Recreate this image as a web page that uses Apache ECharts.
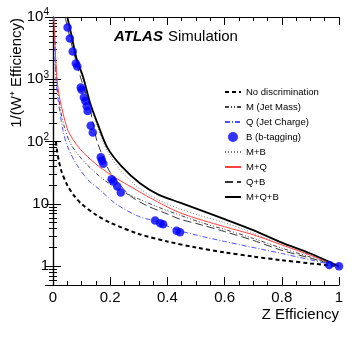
<!DOCTYPE html>
<html>
<head>
<meta charset="utf-8">
<script src="https://cdn.jsdelivr.net/npm/echarts@6/dist/echarts.min.js"></script>
<style>
  html, body { margin: 0; padding: 0; background: #fff; }
  #chart-container { width: 357px; height: 340px; }
</style>
</head>
<body>
<div id="chart-container"></div>
<script>
// 1/(W+ eff) vs Z eff, ATLAS simulation

var FONT = '"Liberation Sans", Arial, Helvetica, sans-serif';

// legend names
var NAMES = ['No discrimination', 'M (Jet Mass)', 'Q (Jet Charge)', 'B (b-tagging)',
             'M+B', 'M+Q', 'Q+B', 'M+Q+B'];

// [Z efficiency, 1/(W+ efficiency)]
var noDisc = [[0.01, 100], [0.015, 67], [0.02, 50], [0.03, 33], [0.05, 20], [0.075, 13.3],
    [0.1, 10], [0.15, 6.7], [0.2, 5], [0.3, 3.3], [0.4, 2.5], [0.5, 2], [0.6, 1.67],
    [0.7, 1.43], [0.8, 1.25], [0.9, 1.11], [1, 1]];
var jetMass = [[0.004, 10000], [0.008, 3000], [0.013, 1000], [0.025, 350], [0.04, 170],
    [0.06, 95], [0.09, 60], [0.13, 38], [0.18, 24], [0.24, 16], [0.3, 12], [0.37, 8.8],
    [0.444, 6.6], [0.52, 5.0], [0.6, 3.9], [0.7, 2.8], [0.8, 1.95], [0.9, 1.4], [1, 1]];
var jetCharge = [[0.003, 10000], [0.006, 3000], [0.01, 1000], [0.02, 400], [0.035, 150],
    [0.05, 85], [0.08, 45], [0.12, 25], [0.164, 16.8], [0.22, 10], [0.3, 6.3], [0.357, 5.3],
    [0.444, 3.7], [0.6, 2.5], [0.8, 1.6], [1, 1]];
var bTag = [[0.051, 6800], [0.059, 4500], [0.069, 2800], [0.080, 1800], [0.085, 1600],
    [0.097, 740], [0.100, 680], [0.108, 510], [0.113, 450], [0.118, 370], [0.121, 310],
    [0.132, 180], [0.139, 140], [0.167, 56], [0.171, 50], [0.176, 44], [0.205, 25],
    [0.211, 23], [0.225, 19], [0.237, 15.3], [0.357, 5.4], [0.375, 4.9], [0.385, 4.7],
    [0.432, 3.7], [0.444, 3.5], [0.966, 1.05], [1.0, 1.0]];
var massB = [[0.047, 10000], [0.065, 4500], [0.083, 2000], [0.105, 1000], [0.13, 400],
    [0.155, 180], [0.19, 70], [0.24, 33], [0.3, 18], [0.37, 11.5], [0.444, 8.3],
    [0.52, 6.4], [0.6, 5.0], [0.7, 3.4], [0.8, 2.2], [0.9, 1.5], [1, 1]];
var massQ = [[0.003, 10000], [0.008, 3000], [0.014, 1000], [0.024, 480], [0.05, 160],
    [0.07, 108], [0.094, 76], [0.12, 58], [0.16, 40], [0.22, 26], [0.28, 18], [0.34, 12.5],
    [0.444, 7.2], [0.6, 4.3], [0.7, 3.2], [0.8, 2.2], [0.9, 1.5], [1, 1]];
var chargeB = [[0.042, 10000], [0.06, 4500], [0.08, 2000], [0.1, 950], [0.125, 420],
    [0.153, 105], [0.18, 50], [0.2, 32], [0.235, 20], [0.27, 13.5], [0.33, 9.3], [0.39, 7.2],
    [0.444, 5.7], [0.52, 4.6], [0.6, 3.6], [0.7, 2.6], [0.8, 1.8], [0.9, 1.35], [1, 1]];
var allThree = [[0.05, 10000], [0.065, 5000], [0.083, 2100], [0.105, 1100], [0.129, 430],
    [0.155, 200], [0.19, 80], [0.24, 40], [0.304, 21.5], [0.37, 14], [0.444, 10.5],
    [0.52, 7.8], [0.6, 5.7], [0.7, 3.8], [0.8, 2.4], [0.9, 1.6], [1, 1]];

var myChart = echarts.init(document.getElementById('chart-container'));

function lineSeries(name, data, color, width, dash) {
    return {
        name: name,
        type: 'line',
        data: data,
        smooth: 0.3,
        symbol: 'none',
        clip: true,
        lineStyle: { color: color, width: width, type: dash },
        itemStyle: { color: color }
    };
}

function yLabel(v) {
    var e = Math.round(Math.log10(v));
    if (Math.abs(Math.log10(v) - e) > 1e-6) return '';
    if (e === 0) return '{b|1}';
    if (e === 1) return '{b|10}';
    return '{b|10}{s|' + e + '}';
}

// legend entries: only the b-tagging one keeps its marker
var legendData = NAMES.map(function(n) {
    if (n === 'B (b-tagging)') return { name: n };
    return { name: n, itemStyle: { opacity: 0 } };
});

var tickCommon = {
    axisLine: { show: true, lineStyle: { color: '#000', width: 1.2 } },
    axisTick: { show: true, inside: true, length: 8, lineStyle: { color: '#000' } },
    splitLine: { show: false },
    minorSplitLine: { show: false }
};
var xMinor = { minorTick: { show: true, splitNumber: 4, length: 4, lineStyle: { color: '#000' } } };
var yMinor = { minorTick: { show: true, splitNumber: 9, length: 4, lineStyle: { color: '#000' } } };

var option = {
    animation: false,
    backgroundColor: '#fff',
    textStyle: { fontFamily: FONT },
    title: {
        text: '{a|ATLAS} {b|Simulation}',
        left: 109,
        top: 23,
        textStyle: {
            fontWeight: 'normal',
            rich: {
                a: { fontFamily: FONT, fontSize: 15, fontWeight: 'bold', fontStyle: 'italic', color: '#000' },
                b: { fontFamily: FONT, fontSize: 15, fontWeight: 'normal', color: '#000' }
            }
        }
    },
    graphic: [{
        type: 'text',
        x: 17,
        y: 18,
        rotation: Math.PI / 2,
        style: {
            text: '1/(W\u207A Efficiency)',
            font: '15px ' + FONT,
            fill: '#000',
            align: 'right',
            verticalAlign: 'middle'
        }
    }],
    legend: {
        orient: 'vertical',
        left: 219,
        top: 82,
        itemWidth: 16,
        itemHeight: 10,
        itemGap: 5,
        data: legendData,
        textStyle: { fontFamily: FONT, fontSize: 9.5, color: '#000' }
    },
    grid: { left: 53, right: 18, top: 17, bottom: 55 },
    xAxis: [
        Object.assign({
            type: 'value', min: 0, max: 1, interval: 0.2,
            name: 'Z Efficiency', nameLocation: 'end', nameGap: 0,
            nameTextStyle: { fontFamily: FONT, fontSize: 15, color: '#000', align: 'right', verticalAlign: 'top', padding: [22, 0, 0, 0] },
            axisLabel: { fontFamily: FONT, fontSize: 15, color: '#000', margin: 5 }
        }, tickCommon, xMinor),
        Object.assign({
            type: 'value', min: 0, max: 1, interval: 0.2, position: 'top',
            axisLabel: { show: false }
        }, tickCommon, xMinor)
    ],
    yAxis: [
        Object.assign({
            type: 'log', logBase: 10, min: 0.5, max: 10000,
            axisLabel: {
                margin: 4,
                formatter: yLabel,
                rich: {
                    b: { fontFamily: FONT, fontSize: 15, color: '#000' },
                    s: { fontFamily: FONT, fontSize: 10, color: '#000', padding: [0, 0, 9, 0] }
                }
            }
        }, tickCommon, yMinor),
        Object.assign({
            type: 'log', logBase: 10, min: 0.5, max: 10000, position: 'right',
            axisLabel: { show: false }
        }, tickCommon, yMinor)
    ],
    series: [
        lineSeries(NAMES[0], noDisc, '#000', 2, [4, 3]),
        lineSeries(NAMES[1], jetMass, '#444', 1, [4, 2, 1, 2, 1, 2]),
        lineSeries(NAMES[2], jetCharge, '#5050ff', 1, [5, 2, 1, 2]),
        lineSeries(NAMES[4], massB, '#777', 1, [1, 2]),
        lineSeries(NAMES[5], massQ, '#ff4040', 1, 'solid'),
        lineSeries(NAMES[6], chargeB, '#333', 1, [8, 4]),
        lineSeries(NAMES[7], allThree, '#000', 1.8, 'solid'),
        {
            name: NAMES[3],
            type: 'scatter',
            data: bTag,
            symbol: 'circle',
            symbolSize: 8.5,
            itemStyle: { color: '#0000ff' },
            z: 5
        }
    ]
};

myChart.setOption(option);

window.addEventListener('resize', function() {
    myChart.resize();
});
</script>
</body>
</html>
